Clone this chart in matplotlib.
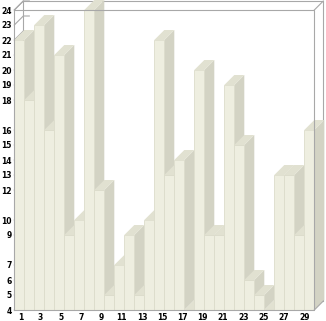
import numpy as np
import matplotlib
matplotlib.use('Agg')
import matplotlib.pyplot as plt

# data
days = np.arange(1, 31)
values = np.array([22, 18, 23, 16, 21, 9, 10, 24, 12, 5,
                   7, 9, 5, 10, 22, 13, 14, 4, 20, 9,
                   9, 19, 15, 6, 5, 4, 13, 13, 9, 16])
xlabels = [1, 3, 5, 7, 9, 11, 13, 15, 17, 19, 21, 23, 25, 27, 29]
y_min, y_max = 4, 24
yticks = sorted(set(values.tolist()))

# colours
c_front = '#EEEEE0'
c_side = '#D3D3C4'
c_top = '#E1E1D1'
c_edge = '#DCDCCB'
c_frame = '#A8A8A8'

fig = plt.figure(figsize=(3.26, 3.21), dpi=100)
ax = fig.add_axes([14.3 / 326, 11 / 321, 300 / 326, 300 / 321])
ax.set_xlim(0, len(values))
ax.set_ylim(y_min, y_max)

# depth of the 3d effect in data units (10 px right, 10 px up)
bx, by = 1.0, 10 / 15
fx, fy = 0.9, 9 / 15

# back wall
n = len(values)
back = dict(color=c_frame, lw=0.8, clip_on=False, zorder=1)
ax.plot([fx, n + fx, n + fx], [y_max + fy, y_max + fy, y_min + fy], **back)
ax.plot([fx, fx], [y_min + fy, y_max + fy], **back)
for v in yticks:
    ax.plot([0, fx, fx + 0.6], [v, v + fy, v + fy], **back)

# bars, left to right so each front hides the previous side
x0 = days - 1
for i, (x, v) in enumerate(zip(x0, values)):
    ax.fill([x + 1, x + 1 + bx, x + 1 + bx, x + 1],
            [y_min, y_min + by, v + by, v],
            color=c_side, lw=0, clip_on=False, zorder=2 + 2 * i)
    ax.fill([x, x + bx, x + 1 + bx, x + 1],
            [v, v + by, v + by, v],
            color=c_top, lw=0, clip_on=False, zorder=2 + 2 * i)
    ax.bar(x, v - y_min, bottom=y_min, width=1, align='edge',
           color=c_front, edgecolor=c_edge, linewidth=0.6,
           clip_on=False, zorder=3 + 2 * i)

# front frame and corner edges
front = dict(color=c_frame, lw=0.8, clip_on=False, zorder=200)
ax.plot([0, n, n, 0, 0], [y_min, y_min, y_max, y_max, y_min], **front)
ax.plot([0, fx], [y_max, y_max + fy], **front)
ax.plot([n, n + fx], [y_max, y_max + fy], **front)
ax.plot([n, n + fx], [y_min, y_min + fy], **front)

for s in ax.spines.values():
    s.set_visible(False)

ax.set_yticks(yticks)
ax.set_yticklabels([str(v) for v in yticks], fontsize=5.5, fontweight='bold')
label_pos = [0.6 + (k - 1) * 1.014 for k in xlabels]
ax.set_xticks(label_pos)
ax.set_xticklabels([str(k) for k in xlabels], fontsize=5.5, fontweight='bold')
ax.tick_params(axis='both', length=0, colors='black')
ax.tick_params(axis='x', pad=2.5)
ax.tick_params(axis='y', pad=2)

plt.savefig('out.png', dpi=100)
